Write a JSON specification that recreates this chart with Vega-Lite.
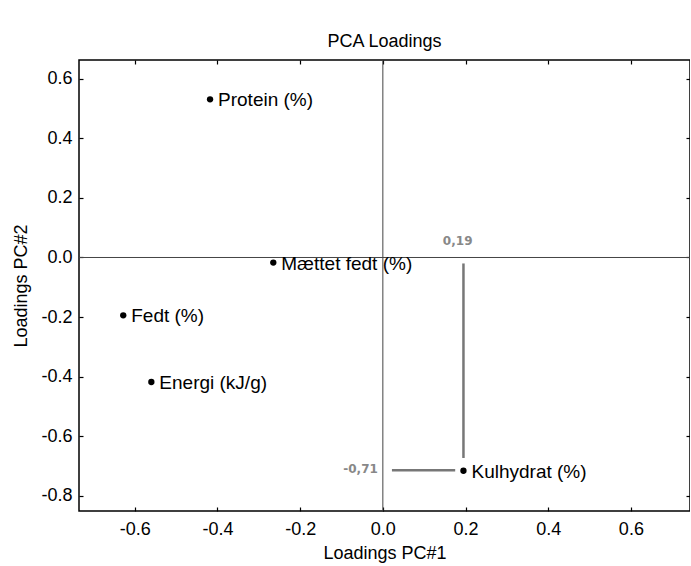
{
  "$schema": "https://vega.github.io/schema/vega-lite/v6.json",
  "width": 611,
  "height": 451,
  "autosize": {"type": "none"},
  "padding": {"left": 79, "top": 60, "right": 0, "bottom": 55},
  "background": "white",
  "title": {"text": "PCA Loadings", "fontSize": 18, "fontWeight": "normal", "font": "Liberation Sans", "color": "black", "offset": 8, "anchor": "middle"},
  "config": {
    "view": {"stroke": "black", "strokeWidth": 1.5},
    "font": "Liberation Sans",
    "axis": {"grid": false, "domain": false, "tickColor": "black", "tickSize": 4, "offset": -4, "tickWidth": 1.2, "labelFont": "Liberation Sans", "labelFontSize": 18, "labelColor": "black", "titleFont": "Liberation Sans", "titleFontSize": 18, "titleFontWeight": "normal", "titleColor": "black", "labelExpr": "replace(datum.label, '−', '-')"}
  },
  "datasets": {
    "pts": [
      {"name": "Protein (%)", "x": -0.418, "y": 0.531},
      {"name": "Mættet fedt (%)", "x": -0.265, "y": -0.017},
      {"name": "Fedt (%)", "x": -0.628, "y": -0.194},
      {"name": "Energi (kJ/g)", "x": -0.56, "y": -0.418},
      {"name": "Kulhydrat (%)", "x": 0.195, "y": -0.716}
    ],
    "segs": [
      {"x": 0.195, "y": -0.02, "x2": 0.195, "y2": -0.673},
      {"x": 0.022, "y": -0.714, "x2": 0.175, "y2": -0.714}
    ],
    "annTop": [
      {"label": "0,19", "x": 0.181, "y": 0.056}
    ],
    "annLeft": [
      {"label": "-0,71", "x": -0.012, "y": -0.71}
    ]
  },
  "layer": [
    {
      "layer": [
        {
          "data": {"values": [{"v": 0}]},
          "mark": {"type": "rule", "color": "#444", "strokeWidth": 1},
          "encoding": {
            "x": {"field": "v", "type": "quantitative", "scale": {"domain": [-0.735, 0.743], "nice": false, "zero": false},
                  "axis": {"title": "Loadings PC#1", "values": [-0.6, -0.4, -0.2, 0, 0.2, 0.4, 0.6], "labelPadding": 9, "titlePadding": 6, "orient": "bottom"}}
          }
        },
        {
          "data": {"values": [{"v": 0}]},
          "mark": {"type": "rule", "color": "#444", "strokeWidth": 1},
          "encoding": {
            "y": {"field": "v", "type": "quantitative", "scale": {"domain": [-0.851, 0.663], "nice": false, "zero": false},
                  "axis": {"title": "Loadings PC#2", "values": [-0.8, -0.6, -0.4, -0.2, 0, 0.2, 0.4, 0.6], "labelPadding": 7, "titlePadding": 10, "orient": "left"}}
          }
        },
        {
          "data": {"name": "segs"},
          "mark": {"type": "rule", "color": "#777", "strokeWidth": 2.5},
          "encoding": {
            "x": {"field": "x", "type": "quantitative", "title": "Loadings PC#1"},
            "y": {"field": "y", "type": "quantitative", "title": "Loadings PC#2"},
            "x2": {"field": "x2"},
            "y2": {"field": "y2"}
          }
        },
        {
          "data": {"name": "annTop"},
          "mark": {"type": "text", "fontSize": 12, "fontWeight": "bold", "color": "#888", "font": "DejaVu Sans", "baseline": "middle", "align": "center"},
          "encoding": {
            "x": {"field": "x", "type": "quantitative", "title": "Loadings PC#1"},
            "y": {"field": "y", "type": "quantitative", "title": "Loadings PC#2"},
            "text": {"field": "label"}
          }
        },
        {
          "data": {"name": "annLeft"},
          "mark": {"type": "text", "fontSize": 12, "fontWeight": "bold", "color": "#888", "font": "DejaVu Sans", "baseline": "middle", "align": "right"},
          "encoding": {
            "x": {"field": "x", "type": "quantitative", "title": "Loadings PC#1"},
            "y": {"field": "y", "type": "quantitative", "title": "Loadings PC#2"},
            "text": {"field": "label"}
          }
        },
        {
          "data": {"name": "pts"},
          "mark": {"type": "point", "filled": true, "color": "black", "size": 40, "opacity": 1},
          "encoding": {
            "x": {"field": "x", "type": "quantitative", "title": "Loadings PC#1"},
            "y": {"field": "y", "type": "quantitative", "title": "Loadings PC#2"}
          }
        },
        {
          "data": {"name": "pts"},
          "mark": {"type": "text", "fontSize": 19, "color": "black", "align": "left", "baseline": "middle", "dx": 8, "dy": 1},
          "encoding": {
            "x": {"field": "x", "type": "quantitative", "title": "Loadings PC#1"},
            "y": {"field": "y", "type": "quantitative", "title": "Loadings PC#2"},
            "text": {"field": "name"}
          }
        }
      ]
    },
    {
      "data": {"values": [{"v": 0}]},
      "mark": {"type": "point", "opacity": 0},
      "encoding": {
        "x": {"field": "v", "type": "quantitative", "axis": {"orient": "top", "labels": false, "title": null, "values": [-0.6, -0.4, -0.2, 0, 0.2, 0.4, 0.6]}},
        "y": {"field": "v", "type": "quantitative", "axis": {"orient": "right", "labels": false, "title": null, "values": [-0.8, -0.6, -0.4, -0.2, 0, 0.2, 0.4, 0.6]}}
      }
    }
  ],
  "resolve": {"axis": {"x": "independent", "y": "independent"}}
}
